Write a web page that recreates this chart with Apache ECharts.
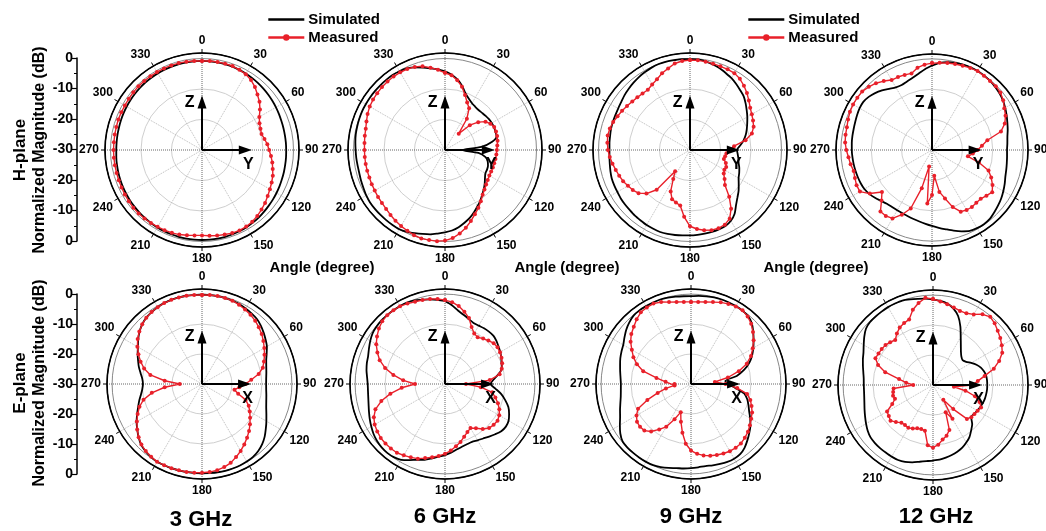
<!DOCTYPE html>
<html><head><meta charset="utf-8">
<script src="https://cdn.jsdelivr.net/npm/echarts@6/dist/echarts.min.js"></script>
<style>html,body{margin:0;padding:0;background:#fff}#c{width:1046px;height:531px}</style>
</head><body><div id="c"></div>
<script>
// ---------------- data ----------------
const ANGLES = [0,5,10,15,20,25,30,35,40,45,50,55,60,65,70,75,80,85,90,95,100,105,110,115,
  120,125,130,135,140,145,150,155,160,165,170,175,180,185,190,195,200,205,210,215,220,225,230,235,
  240,245,250,255,260,265,270,275,280,285,290,295,300,305,310,315,320,325,330,335,340,345,350,355];
const ANGLE_TICKS = ['0','30','60','90','120','150','180','210','240','270','300','330'];
const MAG_TICKS = ['0','-10','-20','-30','-20','-10','0'];
const FREQS = ['3 GHz','6 GHz','9 GHz','12 GHz'];
const SERIES_NAMES = ['Simulated','Measured'];

// H-plane 3 GHz
const h3Sim = [-0.8,-0.8,-0.8,-0.85,-0.9,-1.0,-1.1,-1.25,-1.4,-1.55,-1.7,-1.85,
  -2.0,-2.15,-2.3,-2.35,-2.4,-2.4, -2.4,-2.35,-2.3,-2.2,-2.1,-1.95,
  -1.8,-1.65,-1.5,-1.3,-1.1,-0.95, -0.8,-0.7,-0.6,-0.55,-0.5,-0.5,
  -0.5,-0.5,-0.5,-0.55,-0.6,-0.65, -0.7,-0.8,-0.9,-1.0,-1.1,-1.2,
  -1.3,-1.4,-1.5,-1.6,-1.7,-1.8, -1.9,-1.9,-1.85,-1.8,-1.7,-1.6,
  -1.5,-1.4,-1.3,-1.2,-1.1,-1.05, -1.0,-0.95,-0.9,-0.85,-0.8,-0.8];
const h3Meas = [-0.8,-0.7,-0.7,-0.7,-0.7,-1.0,-1.3,-2.0,-3.0,-4.3,-5.4,-6.8,
  -8.3,-9.2,-9.6,-9.8,-9.2,-8.5, -8.0,-7.3,-6.6,-6.0,-5.3,-4.8,
  -4.3,-3.7,-3.0,-2.4,-1.8,-1.3, -1.0,-0.9,-1.0,-1.3,-1.5,-1.8,
  -2.0,-1.9,-1.6,-1.3,-1.1,-1.0, -0.9,-0.8,-0.7,-0.6,-0.6,-0.7,
  -0.8,-0.9,-0.95,-1.0,-1.0,-1.0, -1.0,-1.0,-0.95,-0.9,-0.8,-0.8,
  -0.8,-0.7,-0.6,-0.5,-0.5,-0.5, -0.5,-0.5,-0.5,-0.5,-0.6,-0.7];
// H-plane 6 GHz
const h6Sim = [-4.2,-5.2,-6.5,-8.3,-10.3,-11.5,-12.3,-12.7,-12.9,-12.8,-12.6,-12.4,
  -12.3,-12.3,-12.4,-12.5,-14.3,-18, -24.5,-19,-16.5,-15.5,-15,-14.8,
  -14.7,-14,-13,-12,-11,-9.8, -8.7,-7.5,-6.3,-5.3,-4.3,-3.5,
  -3.0,-2.5,-1.9,-1.5,-1.0,-0.4, 0,0,0,0,0,0,
  -0.2,-0.5,-0.7,-0.9,-0.9,-0.8, -0.7,-0.5,-0.3,-0.2,-0.1,0,
  0,0,0,0,0,0, -0.2,-0.5,-1.2,-2.0,-2.8,-3.5];
const h6Meas = [-4.7,-5.4,-6.8,-8.5,-10.8,-12.8,-14.2,-17.5,-23,-18.5,-15.8,-13.8,
  -12.8,-12.2,-12.2,-12.3,-12.5,-12.8, -13,-13.1,-13.2,-13.3,-13.3,-13.3,
  -13.2,-12.9,-12.4,-11.7,-10.8,-9.5, -8.1,-6.8,-5.2,-3.6,-2.2,-1.0,
  -0.3,0,0,0,-0.3,-0.8, -1.2,-1.7,-2.2,-2.7,-3.0,-3.2,
  -3.4,-3.5,-3.6,-3.6,-3.6,-3.6, -3.6,-3.5,-3.3,-3.1,-2.6,-2.0,
  -1.5,-1.2,-1.0,-0.8,-0.7,-0.6, -0.6,-0.7,-1.0,-1.6,-2.6,-3.6];
// H-plane 9 GHz
const h9Sim = [-0.2,-0.2,-0.5,-1.0,-1.5,-2.2,-2.8,-3.6,-4.4,-5.1,-6.2,-7.3,
  -8.3,-9.3,-10.2,-11.1,-12.2,-13.5, -14.6,-14.3,-13.9,-13.5,-12.8,-12.2,
  -11.6,-10.5,-9.2,-8.0,-6.5,-4.5, -3.2,-2.5,-2.3,-2.2,-2.2,-2.1,
  -2.0,-1.9,-1.7,-1.5,-1.4,-1.5, -1.6,-1.8,-1.9,-2.1,-2.2,-2.3,
  -2.5,-2.6,-2.7,-3.0,-3.3,-3.5, -3.6,-3.5,-3.4,-3.2,-3.1,-3.0,
  -2.8,-2.5,-2.0,-1.6,-1.2,-0.8, -0.5,-0.2,0,0,-0.1,-0.1];
const h9Meas = [-0.5,-0.5,-0.6,-0.7,-0.8,-0.8,-0.9,-1.5,-2.5,-3.6,-4.8,-5.9,
  -6.6,-7.2,-7.8,-9.0,-11.5,-15.5, -17,-18,-18.3,-18.5,-17.5,-16.9,
  -17,-16.5,-15.2,-13.8,-10.0,-6.5, -4.0,-3.0,-2.7,-2.8,-3.3,-4.0,
  -5.0,-8.0,-11.5,-12.2,-12.8,-15, -19,-21.5,-13,-9.8,-8.0,-7.1,
  -6.5,-5.8,-5.3,-4.8,-4.2,-3.6, -3.1,-2.8,-2.6,-2.8,-3.2,-3.8,
  -4.3,-4.8,-5.3,-5.6,-5.8,-5.9, -5.2,-4.4,-3.2,-2.3,-1.2,-0.7];
// H-plane 12 GHz
const h12Sim = [-2.2,-1.2,-0.6,-0.3,-0.1,0,0,-0.1,-0.3,-0.6,-1.0,-1.5,
  -2.2,-2.9,-3.6,-4.2,-4.8,-5.1, -5.3,-5.2,-5.0,-4.7,-4.3,-3.6,
  -2.9,-2.2,-1.6,-1.0,-0.4,-0.2, -0.3,-0.6,-1.5,-2.5,-3.5,-4.3,
  -5.0,-5.6,-6.1,-6.5,-6.8,-7.0, -7.1,-7.1,-6.9,-6.3,-5.5,-4.8,
  -4.3,-4.1,-4.0,-3.9,-3.8,-3.7, -3.6,-3.5,-3.4,-3.3,-3.1,-2.8,
  -2.5,-2.4,-2.8,-3.5,-4.4,-5.4, -6.2,-6.4,-6.0,-5.4,-4.5,-3.3];
const h12Meas = [-1.4,-1.2,-0.9,-0.7,-0.5,-0.2,0,-0.2,-0.3,-0.3,-0.6,-1.4,
  -2.5,-3.3,-4.5,-6.5,-11.5,-13.5, -15,-16.5,-18,-14,-10.2,-8.5,
  -7.0,-5.8,-6.6,-7.3,-7.3,-7.1, -7.2,-7.6,-10,-13.5,-16,-21.5,
  -15.2,-12.3,-24.5,-17,-9.5,-6.5, -4.0,-3.5,-3.6,-6.5,-8.5,-5,
  -2.6,-2.6,-3.0,-3.3,-2.8,-2.4, -1.8,-1.3,-1.1,-1.0,-0.6,-0.2,
  0,0,0,-0.6,-1.3,-2.3, -3.4,-3.5,-3.7,-3.9,-2.5,-1.8];
// E-plane 3 GHz
const e3Sim = [-0.2,-0.2,-0.2,-0.3,-0.4,-0.6,-0.9,-1.2,-1.6,-2.3,-3.2,-4.1,
  -5.0,-6.2,-7.2,-7.8,-8.2,-8.5, -8.6,-8.5,-8.2,-7.8,-7.2,-6.3,
  -5.2,-4.0,-2.7,-1.6,-0.8,-0.3, -0.1,0,0,0,-0.1,-0.2,
  -0.2,-0.2,-0.2,-0.2,-0.1,-0.1, 0,-0.3,-0.7,-1.3,-2.4,-3.6,
  -4.8,-6.1,-7.3,-8.3,-9.3,-10.0, -10.3,-10.0,-9.2,-8.2,-7.3,-6.3,
  -5.3,-4.0,-2.8,-1.8,-1.1,-0.7, -0.4,-0.2,-0.1,-0.1,-0.1,-0.2];
const e3Meas = [-0.3,-0.2,-0.2,-0.3,-0.4,-0.8,-1.3,-1.8,-2.4,-3.2,-4.0,-5.0,
  -6.0,-7.0,-8.0,-9.0,-10.8,-13.5, -15.5,-17.5,-19,-17.5,-14.5,-12.8,
  -11.6,-10.4,-9.1,-7.8,-6.6,-5.4, -4.2,-3.1,-2.0,-1.3,-0.8,-0.5,
  -0.4,-0.3,-0.2,-0.2,-0.1,-0.1, 0,-0.4,-0.8,-1.4,-2.4,-3.6,
  -4.9,-6.3,-7.8,-9.8,-13,-17.5, -22.6,-17.5,-12.5,-10,-8.2,-6.6,
  -5.1,-3.8,-2.7,-1.8,-1.1,-0.7, -0.4,-0.2,-0.1,-0.1,-0.1,-0.2];
// E-plane 6 GHz
const e6Sim = [-2.3,-3.6,-5.1,-6.1,-6.9,-7.5,-7.5,-7.3,-7.2,-7.2,-7.6,-8.2,
  -8.7,-9.3,-9.9,-10.4,-12.0,-13.8, -14.8,-13.2,-11.0,-9.2,-7.5,-6.4,
  -5.5,-5.2,-5.5,-6.3,-7.1,-7.8, -8.3,-8.7,-8.6,-8.3,-7.8,-7.0,
  -6.3,-5.7,-4.8,-3.8,-3.1,-2.0, -0.8,-0.2,0,-0.1,-0.4,-0.9,
  -1.6,-2.3,-3.0,-3.6,-4.0,-4.2, -4.2,-3.9,-3.4,-3.0,-2.7,-2.0,
  -1.2,-0.5,-0.2,0,0,0, 0,0,-0.3,-0.9,-1.3,-1.8];
const e6Meas = [-2.0,-2.6,-3.6,-5.0,-6.6,-9.0,-10.5,-11.0,-10.2,-9.5,-8.8,-8.6,
  -8.8,-9.2,-9.7,-10.4,-11.5,-15, -23,-18,-14,-12.6,-11.2,-10,
  -9.1,-8.6,-8.8,-9.2,-10.4,-12, -13,-12.3,-11.3,-10,-8.9,-7.7,
  -6.7,-5.9,-5.2,-4.4,-3.5,-3.0, -2.5,-2.0,-1.9,-1.9,-2.0,-2.4,
  -2.9,-3.8,-5.3,-8,-11.5,-15.5, -20,-16,-12.5,-9.3,-6.8,-5.1,
  -3.5,-2.3,-1.2,-0.4,0,0, 0,-0.4,-0.8,-1.0,-1.2,-1.5];
// E-plane 9 GHz
const e9Sim = [-0.7,-0.5,-0.3,-0.1,0,0,0,-0.1,-0.4,-1.3,-2.9,-4.5,
  -6.0,-7.5,-9.3,-11.6,-14.5,-18.5, -17.5,-15.2,-12,-10.6,-9.6,-8.6,
  -7.2,-5.8,-4.6,-3.4,-2.2,-1.4, -1.2,-1.3,-1.6,-1.9,-2.2,-2.1,
  -1.9,-1.7,-1.5,-1.0,-0.5,-0.1, 0,0,0,0,-0.2,-1.2,
  -2.6,-3.9,-4.8,-5.6,-6.2,-6.5, -6.6,-6.4,-6.0,-5.5,-4.9,-4.4,
  -3.9,-2.9,-1.8,-0.9,-0.2,0, 0,0,0,-0.2,-0.4,-0.6];
const e9Meas = [-2.6,-2.5,-2.2,-1.7,-1.0,-0.5,-0.1,0,-0.6,-1.6,-3.0,-4.5,
  -6.2,-7.9,-10.2,-13.5,-17.5,-22, -18.5,-14.5,-11,-9.5,-8.5,-7.5,
  -6.8,-6.0,-5.2,-4.6,-4.1,-4.0, -4.1,-4.4,-4.8,-5.2,-5.8,-6.6,
  -7.8,-10,-13.5,-17,-20,-17, -13.5,-11.5,-9.3,-8.0,-7.8,-8.0,
  -9.0,-10.5,-14.5,-18.5,-21.5,-24.5, -24.5,-21.5,-18.3,-13.5,-10.8,-8.8,
  -7.2,-5.4,-4.0,-3.0,-1.8,-0.8, -0.5,-0.4,-0.9,-1.7,-2.2,-2.5];
// E-plane 12 GHz
const e12Sim = [-1.5,-1.8,-2.4,-3.6,-5.5,-8.4,-11.5,-13.8,-15.5,-16.6,-17.1,-16.5,
  -15.3,-14.0,-13.0,-12.4,-12.0,-11.9, -11.9,-11.9,-12.0,-12.1,-12.3,-12.6,
  -12.9,-13.2,-13.4,-11.5,-10.2,-8.8, -7.8,-6.9,-6.3,-5.8,-5.4,-5.0,
  -4.8,-4.5,-4.0,-3.3,-2.7,-2.4, -2.4,-2.5,-2.5,-2.6,-2.8,-3.4,
  -4.2,-5.0,-5.7,-6.3,-6.7,-6.9, -6.9,-6.8,-6.4,-5.8,-5.1,-4.4,
  -3.3,-2.0,-0.8,-0.3,-0.2,-0.1, 0,0,0,-0.4,-0.8,-1.1];
const e12Meas = [-1.3,-2.0,-2.6,-3.2,-3.7,-3.6,-2.8,-1.2,-0.3,-0.9,-1.8,-2.6,
  -3.5,-4.5,-6.5,-9.0,-12.5,-15, -17,-23,-19,-15.5,-13.5,-12.3,
  -12.8,-13.1,-13.3,-14,-19.5,-24, -17,-20,-14,-12.5,-11.5,-10,
  -9.1,-9.8,-14.5,-14.8,-14.6,-14, -13.5,-13.7,-13.6,-12.5,-11.5,-12,
  -12.3,-15,-16.5,-16.2,-16.5,-16.8, -23.4,-21,-18.5,-13.5,-10.5,-8.8,
  -9.0,-9.1,-9.3,-9.8,-10.4,-9.0, -7.8,-7.2,-6.7,-4,-2.2,-0.8];

// ---------------- layout ----------------
const FONT = '"Liberation Sans", Arial, sans-serif';
const RED = '#e8202a';
const PLOTS = [
  {cx:202, cy:150, r:97, max:1.8, sim:h3Sim,  meas:h3Meas,  side:'Y'},
  {cx:445, cy:150, r:97, max:1.8, sim:h6Sim,  meas:h6Meas,  side:'Y'},
  {cx:690, cy:150, r:97, max:1.8, sim:h9Sim,  meas:h9Meas,  side:'Y'},
  {cx:932, cy:150, r:96, max:1.6, sim:h12Sim, meas:h12Meas, side:'Y'},
  {cx:202, cy:384, r:95, max:1.7, sim:e3Sim,  meas:e3Meas,  side:'X'},
  {cx:445, cy:384, r:95, max:1.7, sim:e6Sim,  meas:e6Meas,  side:'X'},
  {cx:691, cy:384, r:95, max:1.7, sim:e9Sim,  meas:e9Meas,  side:'X'},
  {cx:933, cy:385, r:95, max:1.7, sim:e12Sim, meas:e12Meas, side:'X'}
];

const polar = [], angleAxis = [], radiusAxis = [], series = [];
const closeCurve = arr => ANGLES.map((a, i) => [arr[i], a]).concat([[arr[0], 360]]);
PLOTS.forEach((p, i) => {
  polar.push({center:[p.cx, p.cy], radius:p.r});
  angleAxis.push({
    polarIndex:i, type:'value', min:0, max:360, interval:30, startAngle:90, clockwise:true,
    axisLine:{lineStyle:{color:'#000', width:1.6}},
    axisTick:{show:true, length:4, lineStyle:{color:'#000', width:1}},
    axisLabel:{margin:6, color:'#000', fontWeight:'bold', fontSize:12, fontFamily:FONT,
      formatter:v => (ANGLE_TICKS[v/30] !== undefined && v < 360) ? ANGLE_TICKS[v/30] : ''},
    splitLine:{show:true, lineStyle:{color:['#666','#bbb','#bbb'], type:'dotted', width:1}}
  });
  radiusAxis.push({
    polarIndex:i, type:'value', min:-30, max:p.max, interval:10,
    axisLine:{show:false}, axisTick:{show:false}, axisLabel:{show:false},
    splitLine:{show:true, lineStyle:{color:['#ddd','#cfcfcf','#cfcfcf','#888','#000'], width:1}}
  });
  series.push({
    type:'line', name:'Simulated', coordinateSystem:'polar', polarIndex:i,
    data:closeCurve(p.sim), symbol:'none', showSymbol:false, smooth:0.25,
    lineStyle:{color:'#000', width:1.8}, itemStyle:{color:'#000'}, z:3
  });
  series.push({
    type:'line', name:'Measured', coordinateSystem:'polar', polarIndex:i,
    data:closeCurve(p.meas), symbol:'circle', symbolSize:4, showSymbol:true,
    lineStyle:{color:RED, width:1.4}, itemStyle:{color:RED}, z:4
  });
  const lbl = {show:true, color:'#000', fontWeight:'bold', fontSize:16, fontFamily:FONT};
  series.push({
    type:'line', coordinateSystem:'polar', polarIndex:i, silent:true, z:6,
    lineStyle:{color:'#000', width:2}, itemStyle:{color:'#000'},
    data:[{value:[-30,0], symbol:'none'},
          {value:[-14.3,0], symbol:'triangle', symbolSize:[9,13],
           label:Object.assign({}, lbl, {formatter:'Z', position:'left', distance:3})}]
  });
  series.push({
    type:'line', coordinateSystem:'polar', polarIndex:i, silent:true, z:6,
    lineStyle:{color:'#000', width:2}, itemStyle:{color:'#000'},
    data:[{value:[-30,90], symbol:'none'},
          {value:[-15.8,90], symbol:'triangle', symbolSize:[9,13], symbolRotate:-90,
           label:Object.assign({}, lbl, {formatter:p.side, position:'bottom', distance:2, offset:[3,0]})}]
  });
});

const magAxis = (gi) => ({
  gridIndex:gi, type:'value', min:-30, max:30, interval:10, position:'left',
  axisLine:{show:true, onZero:false, lineStyle:{color:'#000', width:1.5}},
  axisTick:{show:true, length:5, lineStyle:{color:'#000', width:1.2}},
  minorTick:{show:true, splitNumber:2, length:3, lineStyle:{color:'#000'}},
  splitLine:{show:false},
  axisLabel:{formatter:(v, idx) => MAG_TICKS[idx], fontSize:14, fontWeight:'bold', color:'#000', fontFamily:FONT, margin:4}
});

const txt = (text, x, y, size, extra) => Object.assign({
  type:'text', x:x, y:y, silent:true,
  style:{text:text, font:'bold ' + size + 'px ' + FONT, fill:'#000',
         textAlign:'center', textVerticalAlign:'middle', align:'center', verticalAlign:'middle'}
}, extra || {});

const graphic = [
  txt('H-plane', 20, 150, 17, {rotation:Math.PI/2}),
  txt('Normalized Magnitude (dB)', 40, 150, 16, {rotation:Math.PI/2}),
  txt('E-plane', 20, 383, 17, {rotation:Math.PI/2}),
  txt('Normalized Magnitude (dB)', 40, 383, 16, {rotation:Math.PI/2}),
  txt('Angle (degree)', 322, 268, 15),
  txt('Angle (degree)', 567, 268, 15),
  txt('Angle (degree)', 816, 268, 15),
  txt(FREQS[0], 201, 520, 22),
  txt(FREQS[1], 445, 517, 22),
  txt(FREQS[2], 691, 517, 22),
  txt(FREQS[3], 936, 517, 22)
];

const legendBase = {
  data:[{name:SERIES_NAMES[0], itemStyle:{opacity:0}}, {name:SERIES_NAMES[1]}],
  orient:'vertical', top:7, itemWidth:36, itemHeight:8, itemGap:3,
  lineStyle:{width:2.6},
  textStyle:{fontSize:15, fontWeight:'bold', color:'#000', fontFamily:FONT, padding:[0,0,0,-1]}
};

const chart = echarts.init(document.getElementById('c'), null, {renderer:'canvas'});
chart.setOption({
  animation:false,
  backgroundColor:'#fff',
  textStyle:{fontFamily:FONT},
  legend:[Object.assign({left:262}, legendBase), Object.assign({left:742}, legendBase)],
  polar:polar, angleAxis:angleAxis, radiusAxis:radiusAxis,
  grid:[{left:77, top:58, width:10, height:183}, {left:77, top:294, width:10, height:180}],
  xAxis:[{gridIndex:0, type:'value', show:false}, {gridIndex:1, type:'value', show:false}],
  yAxis:[magAxis(0), magAxis(1)],
  graphic:graphic,
  series:series
});
</script>
</body></html>
